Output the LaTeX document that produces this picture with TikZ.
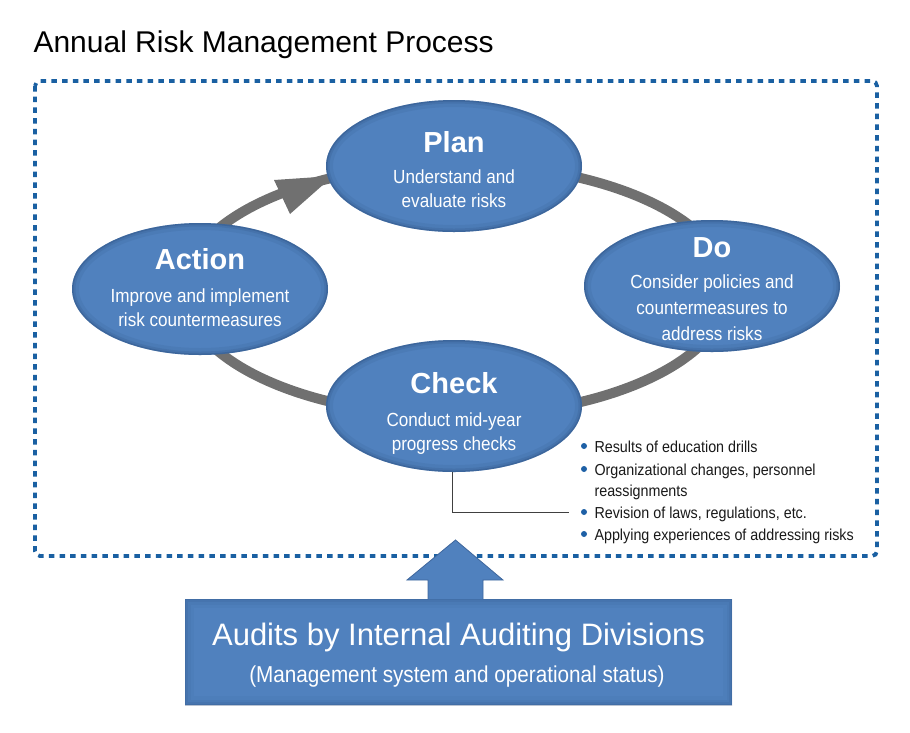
\documentclass[tikz,border=0pt]{standalone}
\usepackage{fontspec}
\setmainfont{Liberation Sans}
\newfontfamily\condf[FakeStretch=0.9]{Liberation Sans}
\usetikzlibrary{arrows.meta,shapes.geometric}
\definecolor{eb}{RGB}{80,129,190}
\definecolor{ebd}{RGB}{62,102,156}
\definecolor{ebdd}{RGB}{40,72,118}
\definecolor{ringc}{RGB}{112,112,112}
\definecolor{framec}{RGB}{26,96,162}
\definecolor{bulc}{RGB}{30,96,166}
\begin{document}
\begin{tikzpicture}[x=1pt,y=-1pt,
  ell/.style={ellipse, inner sep=0pt, minimum width=256pt, minimum height=132pt, fill=eb,
    path picture={
      \draw[ebdd, line width=14pt, opacity=0.10] (path picture bounding box.center) ellipse [x radius=128pt, y radius=66pt];
      \draw[ebdd, line width=7pt, opacity=0.16] (path picture bounding box.center) ellipse [x radius=128pt, y radius=66pt];
      \draw[ebdd, line width=3pt, opacity=0.28] (path picture bounding box.center) ellipse [x radius=128pt, y radius=66pt];
    }},
  hd/.style={anchor=base, text=white, font=\bfseries\fontsize{29}{34}\selectfont},
  bd/.style={anchor=base, text=white, font=\condf\fontsize{19}{24}\selectfont},
  bl/.style={anchor=base west, text=black!90, font=\condf\fontsize{15.9}{20}\selectfont},
  dotc/.style={circle, fill=bulc, inner sep=0pt, minimum size=6pt},
  ringline/.style={draw=ringc, line width=10pt},
]
\useasboundingbox (0,0) rectangle (910,732);
% title
\node[anchor=base west, font=\fontsize{30}{36}\selectfont] (title) at (30,52) {Annual Risk Management Process};
% dotted frame
\draw[framec, line width=3.8pt, dash pattern=on 5.5pt off 5.2pt, rounded corners=5pt] (35,81) rectangle (877,556);
% cycle ring
\coordinate (rc) at (456,290);
\draw[ringline] (rc) ellipse [x radius=272, y radius=126];
% arrow head of the cycle (Action -> Plan)
\fill[ringc] (274,180) -- (290,214) -- (333,176) -- cycle;
% ellipses
\node[ell] (plan) at (454,166) {};
\node[ell] (act) at (200,289) {};
\node[ell] (do) at (712,286) {};
\node[ell] (chk) at (454,406) {};
% texts
\node[hd] (planH) at (454,152) {Plan};
\node[bd] (planL1) at (454,183) {Understand and};
\node[bd] (planL2) at (454,207) {evaluate risks};
\node[hd] (actH) at (200,269) {Action};
\node[bd] (actL1) at (200,302) {Improve and implement};
\node[bd] (actL2) at (200,326) {risk countermeasures};
\node[hd] (doH) at (712,257) {Do};
\node[bd] (doL1) at (712,288) {Consider policies and};
\node[bd] (doL2) at (712,314) {countermeasures to};
\node[bd] (doL3) at (712,340) {address risks};
\node[hd] (chkH) at (454,393) {Check};
\node[bd] (chkL1) at (454,426) {Conduct mid-year};
\node[bd] (chkL2) at (454,450) {progress checks};
% bullets
\node[dotc] (d1) at (584,446) {};
\node[bl] (b1) at (591,452) {Results of education drills};
\node[dotc] (d2) at (584,469) {};
\node[bl] (b2) at (591,475) {Organizational changes, personnel};
\node[bl] (b2b) at (591,496) {reassignments};
\node[dotc] (d3) at (584,512) {};
\node[bl] (b3) at (591,518) {Revision of laws, regulations, etc.};
\node[dotc] (d4) at (584,534) {};
\node[bl] (b4) at (591,540) {Applying experiences of addressing risks};
% connector from Check
\coordinate (revend) at (569,512);
\draw[black!75, line width=0.9pt] ([xshift=-2pt]chk.south) |- (revend);
% audit box
\node[rectangle, inner sep=0pt, minimum width=547pt, minimum height=106pt, fill=eb,
  path picture={
    \draw[ebdd, line width=18pt, opacity=0.05] (path picture bounding box.south west) rectangle (path picture bounding box.north east);
    \draw[ebdd, line width=11pt, opacity=0.07] (path picture bounding box.south west) rectangle (path picture bounding box.north east);
    \draw[ebdd, line width=6pt, opacity=0.10] (path picture bounding box.south west) rectangle (path picture bounding box.north east);
    \draw[ebdd, line width=2.5pt, opacity=0.15] (path picture bounding box.south west) rectangle (path picture bounding box.north east);
  }] (aud) at (458.5,652) {};
\node[anchor=base, text=white, font=\fontsize{31}{36}\selectfont] (audT) at (458.5,645) {Audits by Internal Auditing Divisions};
\node[anchor=base, text=white, font=\condf\fontsize{23}{28}\selectfont] (audS) at (457,682) {(Management system and operational status)};
% block arrow from audit box up to the frame
\fill[eb, draw=ebd, line width=0.8pt] (428,599) -- (428,580) -- (407,580) -- (455.5,540) -- (503,580) -- (483,580) -- (483,599);
\end{tikzpicture}
\end{document}
